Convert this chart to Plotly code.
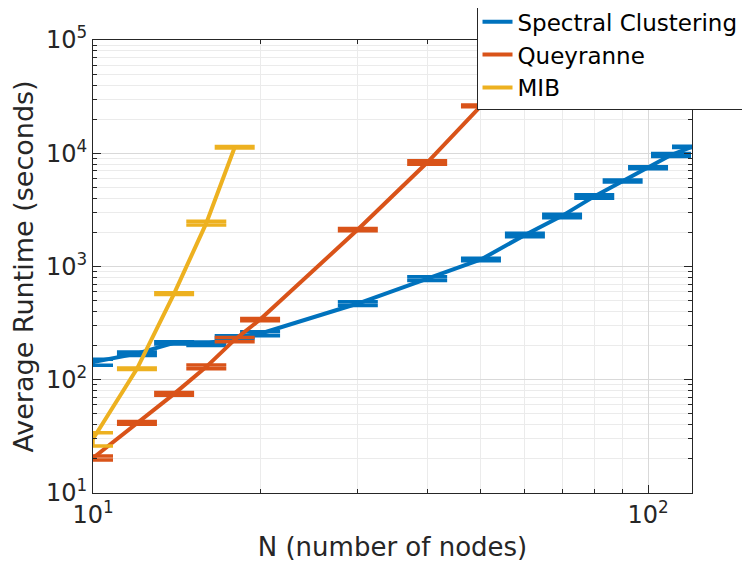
import plotly.graph_objects as go

# ---- data ----
sc_n = [10, 12, 14, 16, 18, 20, 30, 40, 50, 60, 70, 80, 90, 100, 110, 120]
sc_t = [143, 170, 212, 208, 238, 255, 471, 783, 1153, 1900, 2800, 4160, 5690, 7460, 9660, 11380]
sc_e = [9, 6, 5, 7, 7, 10, 18, 30, 30, 70, 100, 150, 120, 150, 300, 150]

q_n = [10, 12, 14, 16, 18, 20, 30, 40, 50]
q_t = [20.4, 41.6, 75, 130, 226, 340, 2120, 8280, 26200]
q_e = [0.8, 1.2, 2, 5, 10, 8, 50, 300, 500]

mib_n = [10, 12, 14, 16, 18]
mib_t = [30, 125, 577, 2415, 11300]
mib_e = [4, 2, 10, 90, 200]

series = [
    ("Spectral Clustering", sc_n, sc_t, sc_e, "#0072BD"),
    ("Queyranne", q_n, q_t, q_e, "#D95319"),
    ("MIB", mib_n, mib_t, mib_e, "#EDB120"),
]

x_tickvals = [10, 100]
x_ticktext = ["10<sup>1</sup>", "10<sup>2</sup>"]
x_minor = [20, 30, 40, 50, 60, 70, 80, 90]
y_tickvals = [10, 100, 1000, 10000, 100000]
y_ticktext = ["10<sup>1</sup>", "10<sup>2</sup>", "10<sup>3</sup>", "10<sup>4</sup>", "10<sup>5</sup>"]
y_minor = [m * 10 ** d for d in range(1, 5) for m in range(2, 10)]

FONT = "DejaVu Sans"

fig = go.Figure()
for name, xs, ys, es, col in series:
    fig.add_trace(go.Scatter(
        x=xs, y=ys, name=name, mode="lines", cliponaxis=False,
        line=dict(color=col, width=4),
        error_y=dict(type="data", array=es, visible=True, color=col,
                     thickness=3.5, width=20),
    ))

def axis_common(minor_vals):
    return dict(
        type="log", showline=True, linecolor="#262626", linewidth=1, mirror="ticks",
        ticks="inside", ticklen=8, tickcolor="#262626",
        showgrid=True, gridcolor="#d9d9d9", gridwidth=1,
        minor=dict(tickmode="array", tickvals=minor_vals, ticks="inside", ticklen=4,
                   tickcolor="#262626", showgrid=True, gridcolor="#ebebeb", gridwidth=1),
        tickfont=dict(family=FONT, size=24, color="#262626"),
        zeroline=False, automargin=False,
    )

fig.update_xaxes(range=[1, 2.0792], tickvals=x_tickvals, ticktext=x_ticktext,
                 title=dict(text="N (number of nodes)", font=dict(family=FONT, size=26, color="#262626"),
                            standoff=10),
                 **axis_common(x_minor))
fig.update_yaxes(range=[1, 5], tickvals=y_tickvals, ticktext=y_ticktext,
                 title=dict(text="Average Runtime (seconds)", font=dict(family=FONT, size=27, color="#262626"),
                            standoff=12),
                 **axis_common(y_minor))

# page body adds an 8px offset; size the figure so the plot area lands where the reference has it
fig.update_layout(
    width=742, height=571,
    margin=dict(l=85, r=58, t=32, b=86, autoexpand=False),
    paper_bgcolor="white", plot_bgcolor="white",
    font=dict(family=FONT, color="#262626"),
    showlegend=True,
    legend=dict(x=1.086, y=1.09, xanchor="right", yanchor="top",
                bgcolor="white", bordercolor="#262626", borderwidth=1,
                font=dict(family=FONT, size=23, color="black"),
                tracegroupgap=0, itemwidth=30),
)

fig.write_html("out.html")
